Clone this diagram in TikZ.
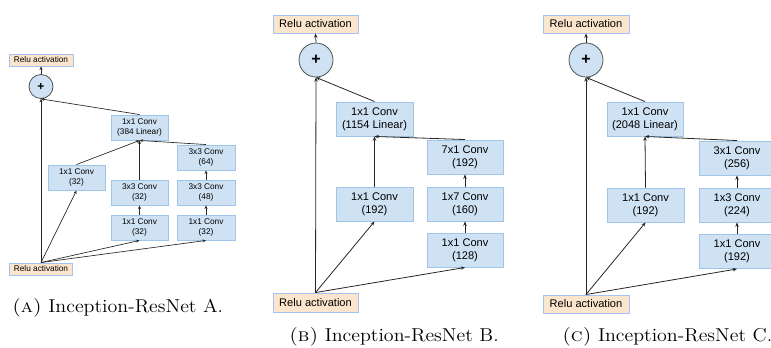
\documentclass[tikz,border=0pt]{standalone}
\usepackage{fontspec}
\newfontfamily\boxfont{Liberation Sans}
\usetikzlibrary{arrows.meta}
\definecolor{convfill}{HTML}{CFE2F3}
\definecolor{convline}{HTML}{9FC5E8}
\definecolor{relufill}{HTML}{FCE5CD}
\definecolor{reluline}{HTML}{A4C2F4}
\definecolor{wire}{HTML}{262626}
\newcommand{\subcap}[2]{\scalebox{1.07}[1]{\textsc{(#1)} Inception-ResNet #2.}}
\begin{document}
\begin{tikzpicture}[x=0.75pt,y=-0.75pt,
  layer/.style 2 args={draw=convline, fill=convfill, line width=0.7pt,
    minimum width=#1*0.75pt, minimum height=#2*0.75pt, inner sep=0pt, align=center},
  relu/.style 2 args={draw=reluline, fill=relufill, line width=0.7pt,
    minimum width=#1*0.75pt, minimum height=#2*0.75pt, inner sep=0pt, align=center},
  addop/.style={circle, draw=wire!80, fill=convfill, line width=0.6pt,
    minimum size=#1*0.75pt, inner sep=0pt},
  tinyfont/.style={font=\boxfont\fontsize{6.2}{7.5}\selectfont},
  smallfont/.style={font=\boxfont\fontsize{8.3}{9.75}\selectfont},
  flowA/.style={draw=wire, line width=0.5pt, -{Stealth[length=2.6pt,width=2.2pt]}},
  flow/.style={draw=wire, line width=0.6pt, -{Stealth[length=3.2pt,width=2.6pt]}},
  caption/.style={anchor=base west, inner sep=0pt, font=\fontsize{14}{16}\selectfont}]
\useasboundingbox (0,0) rectangle (771,347);
\clip (0,0) rectangle (771,347);

% ---------------- Block A ----------------
\begin{scope}[tinyfont]
\node[relu={64}{12}] (ruTA) at (41,60) {Relu activation};
\node[addop=24, font=\boxfont\bfseries\fontsize{9}{9}\selectfont] (addA) at (41,86.5) {+};
\node[layer={57}{25}] (linA) at (139.5,127.5) {1x1 Conv\\(384 Linear)};
\node[layer={57}{25}] (b1A) at (76.5,177.5) {1x1 Conv\\(32)};
\node[layer={57}{25}] (b2bA) at (139.5,192.5) {3x3 Conv\\(32)};
\node[layer={57}{25}] (b2aA) at (139.5,227.5) {1x1 Conv\\(32)};
\node[layer={58}{25}] (b3cA) at (206,157.5) {3x3 Conv\\(64)};
\node[layer={58}{25}] (b3bA) at (206,192.5) {3x3 Conv\\(48)};
\node[layer={58}{25}] (b3aA) at (206,227.5) {1x1 Conv\\(32)};
\node[relu={63}{12}] (ruBA) at (41,269) {Relu activation};
\end{scope}
\draw[flowA] (ruBA.north) -- (addA.south);
\draw[flowA] (ruBA.north) -- (b1A.south);
\draw[flowA] (ruBA.north) -- (b2aA.south);
\draw[flowA] (ruBA.north) -- (b3aA.south);
\draw[flowA] (b2aA.north) -- (b2bA.south);
\draw[flowA] (b3aA.north) -- (b3bA.south);
\draw[flowA] (b3bA.north) -- (b3cA.south);
\draw[flowA] (b1A.north) -- (linA.south);
\draw[flowA] (b2bA.north) -- (linA.south);
\draw[flowA] (b3cA.north) -- (linA.south);
\draw[flowA] (linA.north) -- (addA.south);
\draw[flowA] (addA.north) -- (ruTA.south);

% ---------------- Block B ----------------
\begin{scope}[smallfont]
\node[relu={85}{18}] (ruTB) at (315.5,24) {Relu activation};
\node[addop=34, font=\boxfont\bfseries\fontsize{12}{12}\selectfont] (addB) at (316,60) {+};
\node[layer={77}{34}] (linB) at (374.5,119) {1x1 Conv\\(1154 Linear)};
\node[layer={77}{34}] (b1B) at (374.5,204) {1x1 Conv\\(192)};
\node[layer={76}{34}] (b2cB) at (465,157) {7x1 Conv\\(192)};
\node[layer={76}{34}] (b2bB) at (465,204) {1x7 Conv\\(160)};
\node[layer={76}{34}] (b2aB) at (465,250) {1x1 Conv\\(128)};
\node[relu={85}{19}] (ruBB) at (315.5,302.5) {Relu activation};
\end{scope}
\draw[flow] (ruBB.north) -- (addB.south);
\draw[flow] (ruBB.north) -- (b1B.south);
\draw[flow] (ruBB.north) -- (b2aB.south);
\draw[flow] (b2aB.north) -- (b2bB.south);
\draw[flow] (b2bB.north) -- (b2cB.south);
\draw[flow] (b1B.north) -- (linB.south);
\draw[flow] (b2cB.north) -- (linB.south);
\draw[flow] (linB.north) -- (addB.south);
\draw[flow] (addB.north) -- (ruTB.south);

% ---------------- Block C ----------------
\begin{scope}[smallfont]
\node[relu={86}{18}] (ruTC) at (586,24) {Relu activation};
\node[addop=34, font=\boxfont\bfseries\fontsize{12}{12}\selectfont] (addC) at (586,60) {+};
\node[layer={76}{34}] (linC) at (645,119) {1x1 Conv\\(2048 Linear)};
\node[layer={77}{34}] (b1C) at (645.5,205) {1x1 Conv\\(192)};
\node[layer={76}{34}] (b2cC) at (737,158) {3x1 Conv\\(256)};
\node[layer={76}{34}] (b2bC) at (737,205) {1x3 Conv\\(224)};
\node[layer={76}{34}] (b2aC) at (737,251.5) {1x1 Conv\\(192)};
\node[relu={86}{18}] (ruBC) at (586,304) {Relu activation};
\end{scope}
\draw[flow] (ruBC.north) -- (addC.south);
\draw[flow] (ruBC.north) -- (b1C.south);
\draw[flow] (ruBC.north) -- (b2aC.south);
\draw[flow] (b2aC.north) -- (b2bC.south);
\draw[flow] (b2bC.north) -- (b2cC.south);
\draw[flow] (b1C.north) -- (linC.south);
\draw[flow] (b2cC.north) -- (linC.south);
\draw[flow] (linC.north) -- (addC.south);
\draw[flow] (addC.north) -- (ruTC.south);

% ---------------- Captions ----------------
\node[caption] (capA) at (12,312) {\subcap{a}{A}};
\node[caption] (capB) at (289,341) {\subcap{b}{B}};
\node[caption] (capC) at (562,341) {\subcap{c}{C}};
\end{tikzpicture}
\end{document}
